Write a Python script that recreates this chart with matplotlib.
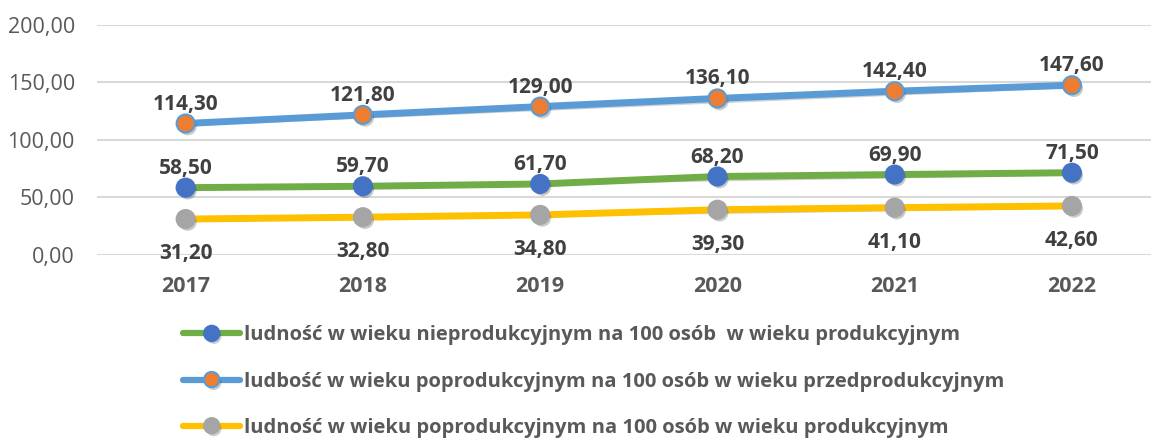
import matplotlib.pyplot as plt
import matplotlib.patheffects as pe

plt.rcParams['font.family'] = ['Open Sans', 'DejaVu Sans']

lata = ['2017', '2018', '2019', '2020', '2021', '2022']
nieprod_na_prod = [58.5, 59.7, 61.7, 68.2, 69.9, 71.5]
poprod_na_przedprod = [114.3, 121.8, 129.0, 136.1, 142.4, 147.6]
poprod_na_prod = [31.2, 32.8, 34.8, 39.3, 41.1, 42.6]

etykiety = ['ludność w wieku nieprodukcyjnym na 100 osób  w wieku produkcyjnym',
            'ludbość w wieku poprodukcyjnym na 100 osób w wieku przedprodukcyjnym',
            'ludność w wieku poprodukcyjnym na 100 osób w wieku produkcyjnym']

szary = '#595959'


def fmt(v):
    return f"{v:.2f}".replace('.', ',')


fig = plt.figure(figsize=(11.51, 4.38), dpi=100)
ax = fig.add_axes([0.0843, 0.418, 0.924, 0.525])

cien = [pe.SimplePatchShadow(offset=(1.5, -2), alpha=0.25), pe.Normal()]
x = list(range(len(lata)))

serie = [
    (nieprod_na_prod, '#70AD47', '#4472C4', '#4472C4', 14),
    (poprod_na_przedprod, '#5B9BD5', '#ED7D31', '#5B9BD5', 14),
    (poprod_na_prod, '#FFC000', '#A5A5A5', '#A5A5A5', -25),
]

linie = []
for (dane, kol, mk, mkb, off), lab in zip(serie, etykiety):
    l, = ax.plot(x, dane, color=kol, lw=5, marker='o', ms=13,
                 markerfacecolor=mk, markeredgecolor=mkb, markeredgewidth=1.5,
                 label=lab, path_effects=cien, solid_capstyle='round', zorder=3)
    linie.append(l)
    for xi, v in zip(x, dane):
        ax.annotate(fmt(v), (xi, v), xytext=(0, off), textcoords='offset points',
                    ha='center', va='center', fontsize=15, fontweight='bold',
                    color='#404040')

ax.set_xlim(-0.5, 5.5)
ax.set_ylim(0, 200)
ax.set_yticks([0, 50, 100, 150, 200])
ax.set_yticklabels([fmt(v) for v in [0, 50, 100, 150, 200]], fontsize=15.5, color=szary)
ax.set_xticks(x)
ax.set_xticklabels(lata, fontsize=15.5, fontweight='bold', color=szary)
ax.tick_params(length=0, pad=15)
ax.tick_params(axis='y', pad=16)
ax.grid(axis='y', color='#D9D9D9', lw=1.5)
ax.set_axisbelow(True)
for s in ax.spines.values():
    s.set_visible(False)

leg = fig.legend(handles=linie, loc='upper left', bbox_to_anchor=(0.159, 0.257),
                 frameon=False, fontsize=14.5, handlelength=2.85, handletextpad=0.2,
                 labelspacing=1.3, borderaxespad=0, borderpad=0)
for t in leg.get_texts():
    t.set_color(szary)
    t.set_fontweight('bold')
for h in leg.legend_handles:
    h.set_markersize(11)
    h.set_linewidth(4.5)

fig.savefig('out.png', dpi=100)
